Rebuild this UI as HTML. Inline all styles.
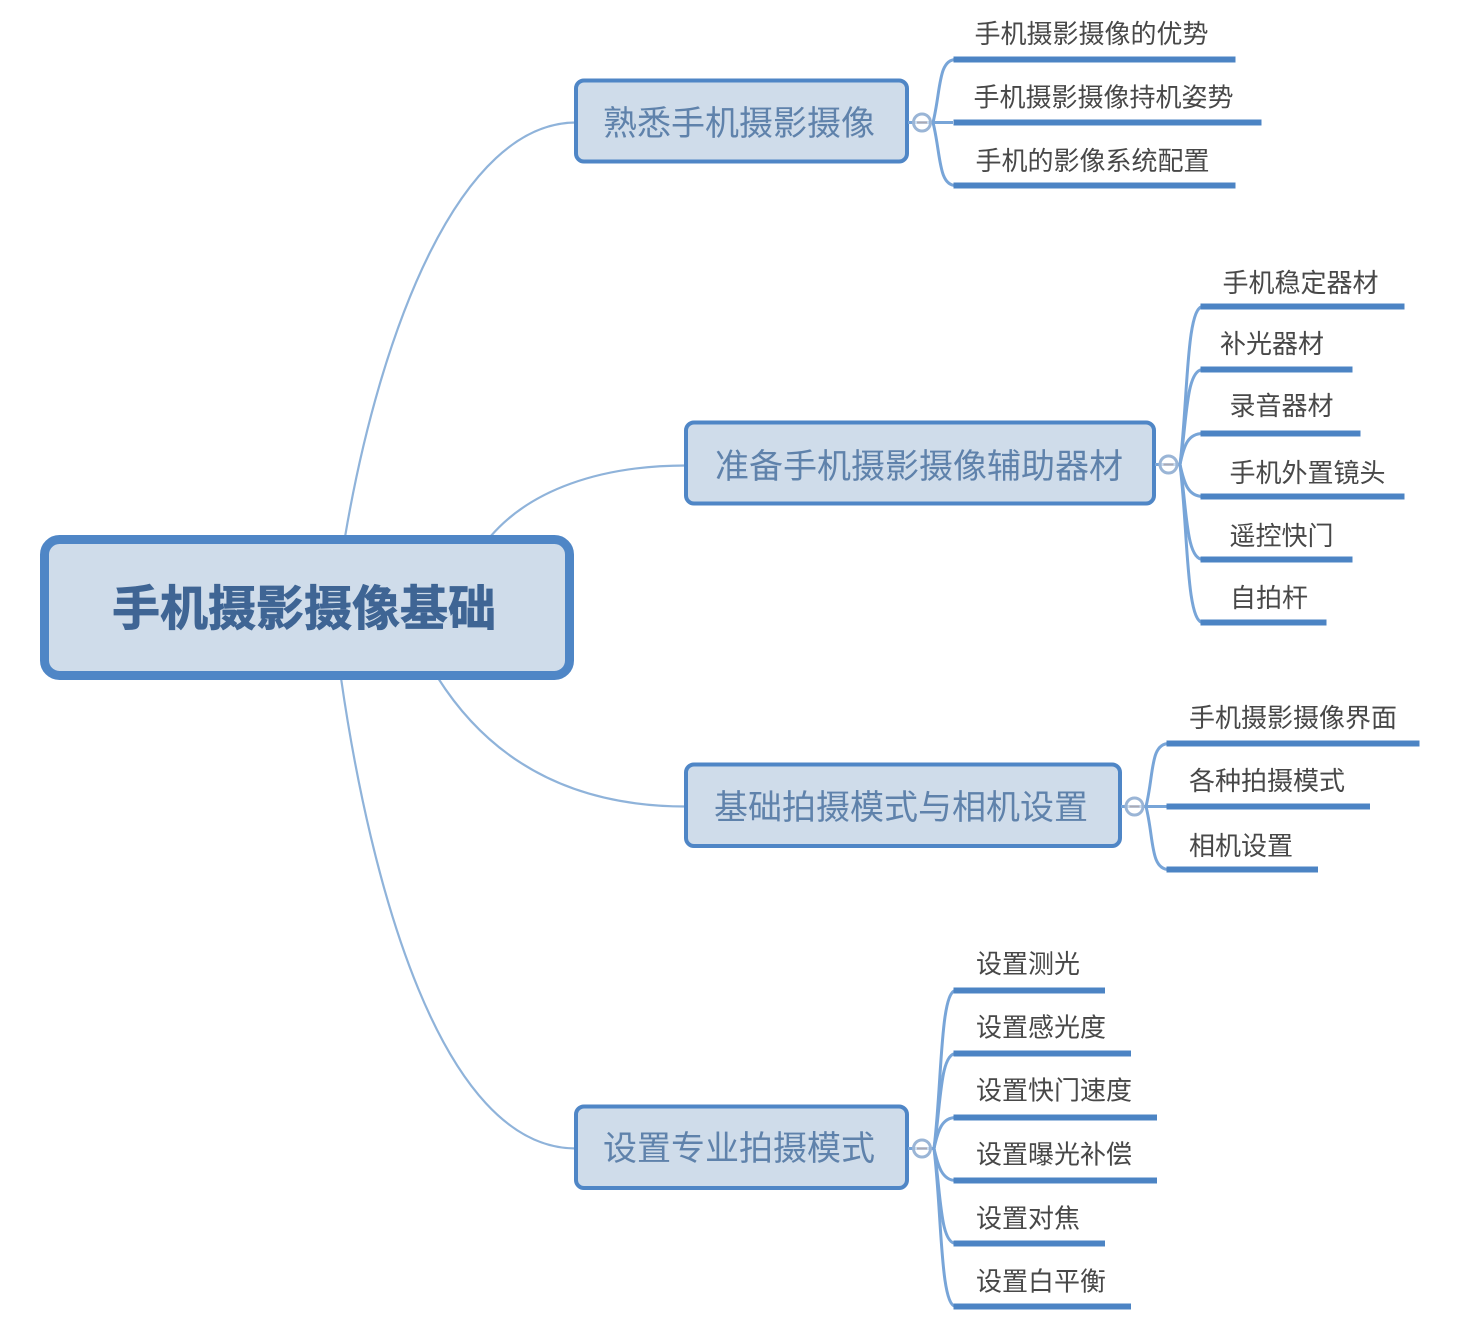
<!DOCTYPE html>
<html><head><meta charset="utf-8"><style>
html,body{margin:0;padding:0;background:#fff}
svg{display:block}
text{font-family:"Liberation Sans","Noto Sans CJK SC",sans-serif}
.l{font-size:26px;fill:#484848}
.b{font-size:34px;fill:#5f82ab}
.r{font-size:48px;font-weight:700;fill:#3f6594;stroke:#3f6594;stroke-width:.8}
.box{fill:#cfdcea;stroke:#4f86c6;stroke-width:4}
.m{fill:none;stroke:#8fb3da;stroke-width:2.2}
.c{fill:none;stroke:#78a5d8;stroke-width:3}
.u{stroke:#4c84c4;stroke-width:6;fill:none}
.o{fill:#fff;fill-opacity:.6;stroke:#9ab5d6;stroke-width:3}
.d{stroke:#a9a9b5;stroke-width:2}
</style></head><body>
<svg width="1472" height="1330" viewBox="0 0 1472 1330" xmlns="http://www.w3.org/2000/svg">
<path class="m" d="M345 537C380 330 460 122.500 576 122.500"/>
<path class="m" d="M490 537C530 490 600 465.500 686 465.500"/>
<path class="m" d="M438 678C490 760 570 806.500 686 806.500"/>
<path class="m" d="M341 678C370 880 440 1148.500 576 1148.500"/>

<rect x="44.500" y="539.500" width="525" height="136" rx="15" fill="#cfdcea" stroke="#4f86c6" stroke-width="9"/>
<text class="r" x="112" y="625">手机摄影摄像基础</text>

<rect class="box" x="576" y="80.500" width="331" height="81" rx="8"/>
<text class="b" x="603" y="135">熟悉手机摄影摄像</text>
<rect class="box" x="686" y="422.500" width="468" height="81" rx="8"/>
<text class="b" x="715" y="478">准备手机摄影摄像辅助器材</text>
<rect class="box" x="686" y="764.500" width="434" height="81.500" rx="8"/>
<text class="b" x="714" y="819">基础拍摄模式与相机设置</text>
<rect class="box" x="576" y="1106.500" width="331" height="81.500" rx="8"/>
<text class="b" x="603" y="1160">设置专业拍摄模式</text>

<!-- group 1 -->
<path class="c" d="M908 122.500H953"/>
<path class="c" d="M933 122.500C941 90 938 59.500 956 59.500"/>
<path class="c" d="M933 122.500C941 154 938 185.500 956 185.500"/>
<path class="u" d="M953.500 59.500H1235.500M953.500 122.500H1261.500M953.500 185.500H1235.500"/>
<circle class="o" cx="922" cy="122.500" r="8.500"/><path class="d" d="M917 122.500H927"/>
<text class="l" x="974.500" y="43">手机摄影摄像的优势</text>
<text class="l" x="973.500" y="106.500">手机摄影摄像持机姿势</text>
<text class="l" x="975.500" y="170">手机的影像系统配置</text>

<!-- group 2 -->
<path class="c" d="M1155 464.500H1180"/>
<path class="c" d="M1180 464.500C1188 400 1186 306.500 1203 306.500"/>
<path class="c" d="M1180 464.500C1187 420 1186 369.500 1203 369.500"/>
<path class="c" d="M1180 464.500C1184 445 1188 433.500 1203 433.500"/>
<path class="c" d="M1180 464.500C1184 483 1188 496.500 1203 496.500"/>
<path class="c" d="M1180 464.500C1187 510 1186 559.500 1203 559.500"/>
<path class="c" d="M1180 464.500C1188 530 1186 622.500 1203 622.500"/>
<path class="u" d="M1200.500 306.500H1404.500M1200.500 369.500H1352.500M1200.500 433.500H1360.500M1200.500 496.500H1404.500M1200.500 559.500H1352.500M1200.500 622.500H1326.500"/>
<circle class="o" cx="1168.500" cy="464.500" r="8.500"/><path class="d" d="M1163.500 464.500H1173.500"/>
<text class="l" x="1222.500" y="292">手机稳定器材</text>
<text class="l" x="1220" y="353">补光器材</text>
<text class="l" x="1229.500" y="415">录音器材</text>
<text class="l" x="1229.500" y="482">手机外置镜头</text>
<text class="l" x="1229.500" y="545">遥控快门</text>
<text class="l" x="1230" y="607">自拍杆</text>

<!-- group 3 -->
<path class="c" d="M1121 806.500H1167"/>
<path class="c" d="M1146 806.500C1154 774 1150 743.500 1169 743.500"/>
<path class="c" d="M1146 806.500C1154 838 1150 869.500 1169 869.500"/>
<path class="u" d="M1166.500 743.500H1419.500M1166.500 806.500H1370M1166.500 869.500H1318"/>
<circle class="o" cx="1134.500" cy="806.500" r="8.500"/><path class="d" d="M1129.500 806.500H1139.500"/>
<text class="l" x="1189" y="727">手机摄影摄像界面</text>
<text class="l" x="1189" y="790">各种拍摄模式</text>
<text class="l" x="1189" y="855">相机设置</text>

<!-- group 4 -->
<path class="c" d="M908 1148.500H934"/>
<path class="c" d="M934 1148.500C942 1084 940 990.500 956 990.500"/>
<path class="c" d="M934 1148.500C941 1104 940 1053.500 956 1053.500"/>
<path class="c" d="M934 1148.500C938 1130 942 1117.500 956 1117.500"/>
<path class="c" d="M934 1148.500C938 1166 942 1180.500 956 1180.500"/>
<path class="c" d="M934 1148.500C941 1194 940 1243.500 956 1243.500"/>
<path class="c" d="M934 1148.500C942 1214 940 1306.500 956 1306.500"/>
<path class="u" d="M953.500 990.500H1105M953.500 1053.500H1131M953.500 1117.500H1157M953.500 1180.500H1157M953.500 1243.500H1105M953.500 1306.500H1131"/>
<circle class="o" cx="922" cy="1148.500" r="8.500"/><path class="d" d="M917 1148.500H927"/>
<text class="l" x="976" y="973">设置测光</text>
<text class="l" x="976" y="1036.500">设置感光度</text>
<text class="l" x="976" y="1099.500">设置快门速度</text>
<text class="l" x="976" y="1163.500">设置曝光补偿</text>
<text class="l" x="976" y="1227.500">设置对焦</text>
<text class="l" x="976" y="1290.500">设置白平衡</text>
</svg>
</body></html>
